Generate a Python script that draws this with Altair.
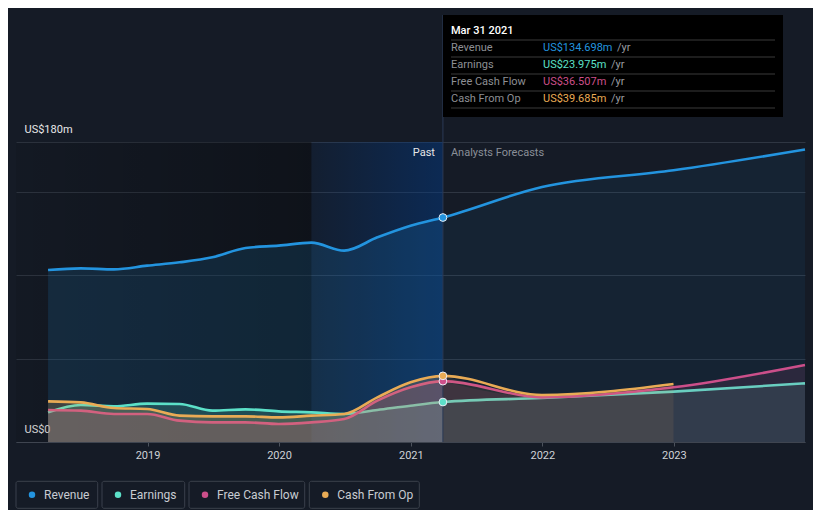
import altair as alt
import pandas as pd

# ---------------- data ----------------
past_dates = ["2018-03-31", "2018-06-30", "2018-09-30", "2018-12-31",
              "2019-03-31", "2019-06-30", "2019-09-30", "2019-12-31",
              "2020-03-31", "2020-06-30", "2020-09-30", "2020-12-31",
              "2021-03-31"]
forecast_dates = ["2021-03-31", "2021-12-31", "2022-12-31", "2023-12-31"]

series_names = ["Revenue", "Earnings", "Free Cash Flow", "Cash From Op"]
series_colors = ["#2394df", "#5ce0c8", "#cc4f8a", "#e9ab55"]

revenue_past = [103.2, 104.2, 103.6, 105.8, 107.8, 110.8, 116.4, 117.8, 119.6, 114.8, 122.8, 129.8, 134.698]
earnings_past = [17.8, 22.2, 21.4, 23.0, 22.8, 18.8, 19.6, 18.4, 17.8, 16.8, 19.2, 21.8, 23.975]
fcf_past = [19.2, 18.8, 16.8, 16.8, 12.8, 11.8, 11.8, 10.8, 11.8, 13.8, 24.8, 32.8, 36.507]
cfo_past = [24.4, 23.8, 20.4, 19.8, 15.8, 15.4, 15.4, 14.8, 15.8, 16.8, 26.8, 35.8, 39.685]

revenue_fc = [134.698, 153.0, 163.0, 175.5]
earnings_fc = [23.975, 26.4, 30.2, 35.2]
fcf_fc = [36.507, 26.8, 32.8, 46.2]
cfo_fc = [39.685, 28.2, 34.8]

past_vals = [revenue_past, earnings_past, fcf_past, cfo_past]
fc_vals = [revenue_fc, earnings_fc, fcf_fc, cfo_fc]

tooltip_date = "Mar 31 2021"
tooltip_values = ["US$134.698m", "US$23.975m", "US$36.507m", "US$39.685m"]

year_ticks = [2019, 2020, 2021, 2022, 2023]
y_grid = [0, 50, 100, 150, 180]

past_start = "2020-03-31"
now_date = "2021-03-31"

# ---------------- layout ----------------
W, H = 789, 300
FONT = "Roboto"
BG = "#151b26"

xscale = alt.Scale(domain=[alt.DateTime(year=2018, month=1, date=1),
                           alt.DateTime(year=2023, month=12, date=31)])
yscale = alt.Scale(domain=[0, 180], nice=False)

xaxis = alt.Axis(values=[alt.DateTime(year=y, month=1, date=1) for y in year_ticks],
                 format="%Y", grid=False, domain=True, domainColor="#3f4550",
                 ticks=True, tickSize=4, tickColor="#4c525c",
                 labelColor="#cfd2d6", labelFontSize=11, labelPadding=3,
                 labelFlush=False, labelFont=FONT, title=None)
yaxis = alt.Axis(values=y_grid, grid=True, gridColor="#2f3642", domain=False,
                 ticks=False, tickSize=0, labelAlign="left", labelBaseline="bottom",
                 labelPadding=-8, labelOffset=-8,
                 labelExpr="datum.value == 0 ? 'US$0' : (datum.value == 180 ? 'US$180m' : '')",
                 labelColor="#e8e8e8", labelFontSize=11, labelFont=FONT,
                 labelFlush=False, title=None)


def X(field):
    return alt.X(field, type="temporal", scale=xscale, axis=xaxis)


def Y(field):
    return alt.Y(field, type="quantitative", scale=yscale, axis=yaxis)


one = pd.DataFrame({"a": [0]})

# background regions
dark_df = pd.DataFrame({"start": [pd.Timestamp("2018-01-01")], "end": [pd.Timestamp(past_start)]})
past_df = pd.DataFrame({"start": [pd.Timestamp(past_start)], "end": [pd.Timestamp(now_date)]})

dark_grad = alt.Gradient(gradient="linear", x1=0, x2=1, y1=0, y2=0,
                         stops=[alt.GradientStop(offset=0, color="rgba(0,0,0,0.08)"),
                                alt.GradientStop(offset=1, color="rgba(0,0,0,0.32)")])
past_grad = alt.Gradient(gradient="linear", x1=0, x2=1, y1=0, y2=0,
                         stops=[alt.GradientStop(offset=0, color="rgba(0,60,140,0.10)"),
                                alt.GradientStop(offset=1, color="rgba(0,60,140,0.45)")])

layers = []
layers.append(alt.Chart(dark_df).mark_rect(fill=dark_grad).encode(
    x=X("start"), x2="end", y=alt.value(0), y2=alt.value(H)))
layers.append(alt.Chart(past_df).mark_rect(fill=past_grad).encode(
    x=X("start"), x2="end", y=alt.value(0), y2=alt.value(H)))

# series areas and lines
area_op_past = [0.15, 0.2, 0.2, 0.2]
area_op_fc = [0.07, 0.12, 0.12, 0.1]
for i, name in enumerate(series_names):
    pdf = pd.DataFrame({"date": pd.to_datetime(past_dates), "value": past_vals[i]})
    fdf = pd.DataFrame({"date": pd.to_datetime(forecast_dates[:len(fc_vals[i])]), "value": fc_vals[i]})
    ldf = pd.concat([pdf, fdf.iloc[1:]], ignore_index=True)
    layers.append(alt.Chart(pdf).mark_area(color=series_colors[i], opacity=area_op_past[i],
                                           interpolate="monotone").encode(x=X("date"), y=Y("value")))
    layers.append(alt.Chart(fdf).mark_area(color=series_colors[i], opacity=area_op_fc[i],
                                           interpolate="monotone").encode(x=X("date"), y=Y("value")))
    layers.append(alt.Chart(ldf).mark_line(color=series_colors[i], strokeWidth=2.6,
                                           interpolate="monotone").encode(x=X("date"), y=Y("value")))

# "now" rule
now_df = pd.DataFrame({"date": [pd.Timestamp(now_date)]})
layers.append(alt.Chart(now_df).mark_rule(color="#2b3a55", strokeWidth=1).encode(
    x=X("date"), y=alt.value(-127), y2=alt.value(H)))

# points at now
for i in [1, 2, 3, 0]:
    pt = pd.DataFrame({"date": [pd.Timestamp(now_date)], "value": [past_vals[i][-1]]})
    layers.append(alt.Chart(pt).mark_point(filled=True, shape="circle", size=60, fill=series_colors[i],
                                           stroke="#e8eef5", strokeWidth=1, opacity=1).encode(
        x=X("date"), y=Y("value")))

# Past / Analysts Forecasts labels
layers.append(alt.Chart(now_df).mark_text(text="Past", align="right", baseline="middle", dx=-8,
                                          font=FONT, fontSize=11, color="#e6e6e6").encode(
    x=X("date"), y=alt.value(11)))
layers.append(alt.Chart(now_df).mark_text(text="Analysts Forecasts", align="left", baseline="middle", dx=8,
                                          font=FONT, fontSize=11, color="#8a8f98").encode(
    x=X("date"), y=alt.value(11)))

# tooltip box
layers.append(alt.Chart(one).mark_rect(fill="#000000").encode(
    x=alt.value(427), x2=alt.value(767), y=alt.value(-127), y2=alt.value(-25)))
layers.append(alt.Chart(one).mark_text(text=tooltip_date, align="left", baseline="middle", font=FONT,
                                       fontSize=11, fontWeight=500, color="#ffffff").encode(
    x=alt.value(435), y=alt.value(-111)))
for yy in [-102, -85, -68, -51, -34]:
    layers.append(alt.Chart(one).mark_rule(color="#3a3a3a", strokeWidth=1).encode(
        x=alt.value(435), x2=alt.value(759), y=alt.value(yy)))
row_y = [-94, -77, -60, -43]
yr_x = [601, 595, 595, 595]
for i, name in enumerate(series_names):
    layers.append(alt.Chart(one).mark_text(text=name, align="left", baseline="middle", font=FONT,
                                           fontSize=11, color="#8d8f94").encode(
        x=alt.value(435), y=alt.value(row_y[i])))
    layers.append(alt.Chart(one).mark_text(text=tooltip_values[i], align="left", baseline="middle", font=FONT,
                                           fontSize=11, color=series_colors[i]).encode(
        x=alt.value(527), y=alt.value(row_y[i])))
    layers.append(alt.Chart(one).mark_text(text="/yr", align="left", baseline="middle", font=FONT,
                                           fontSize=11, color="#9a9ca0").encode(
        x=alt.value(yr_x[i]), y=alt.value(row_y[i])))

# legend
box_x = [(0, 81.7), (86, 168.7), (173, 288.7), (293.3, 403.3)]
for i, name in enumerate(series_names):
    x0, x1 = box_x[i]
    layers.append(alt.Chart(one).mark_rect(fill=BG, stroke="#3b414c", strokeWidth=1, cornerRadius=2).encode(
        x=alt.value(x0), x2=alt.value(x1), y=alt.value(339.3), y2=alt.value(366.3)))
    layers.append(alt.Chart(one).mark_point(filled=True, shape="circle", size=42, color=series_colors[i],
                                            opacity=1).encode(
        x=alt.value(x0 + 16), y=alt.value(352.8)))
    layers.append(alt.Chart(one).mark_text(text=name, align="left", baseline="middle", font=FONT,
                                           fontSize=12, color="#c8ccd2").encode(
        x=alt.value(x0 + 28), y=alt.value(352.8)))

chart = alt.layer(*layers).properties(
    width=W, height=H,
    padding={"left": 8, "top": 134, "right": 8, "bottom": 68},
    autosize=alt.AutoSizeParams(type="none"),
    background=BG,
).configure_view(stroke=None)

chart.save("out.html", embed_options={"renderer": "svg", "actions": False})
